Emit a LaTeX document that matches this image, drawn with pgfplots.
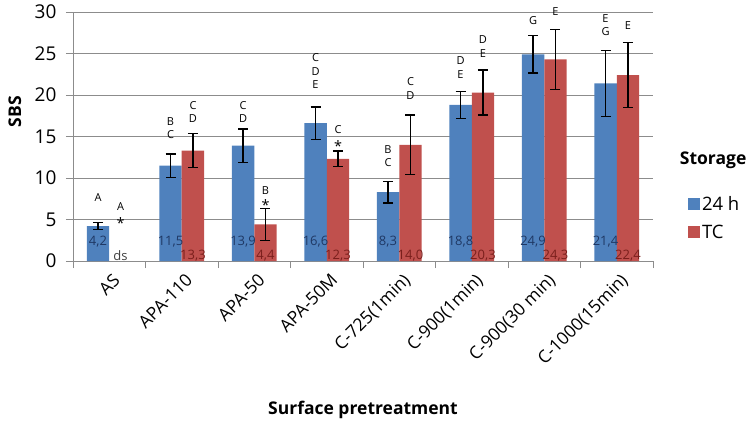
\documentclass[border=0pt]{standalone}
\usepackage{fontspec}
\setmainfont{Open Sans}
\usepackage{pgfplots}
\pgfplotsset{compat=1.18}
\definecolor{barblue}{HTML}{4F81BD}
\definecolor{barred}{HTML}{C0504D}
\definecolor{gridgray}{HTML}{8C8C8C}
\definecolor{lblblue}{HTML}{1F3864}
\definecolor{lblred}{HTML}{7A1F1C}
% significance letters and value labels
\newcommand{\sig}[3]{\node[font=\fontsize{11}{13}\selectfont, inner sep=0pt] at (axis cs:#1,#2) {#3};}
\newcommand{\vb}[2]{\node[font=\fontsize{13}{15}\selectfont, text=lblblue, inner sep=0pt] at (axis cs:#1,2.3) {#2};}
\newcommand{\vr}[2]{\node[font=\fontsize{13}{15}\selectfont, text=lblred, inner sep=0pt] at (axis cs:#1,0.65) {#2};}
\begin{document}
\begin{tikzpicture}
\begin{axis}[
  scale only axis,
  width=580pt, height=249pt,
  xmin=-0.5, xmax=7.5,
  ymin=0, ymax=30,
  ytick={0,5,...,30},
  ybar=0pt, bar width=0.31,
  clip=false,
  /pgf/number format/assume math mode=true,
  axis line style={gridgray, line width=0.8pt},
  axis x line*=bottom,
  axis y line*=left,
  ymajorgrids,
  grid style={gridgray, line width=0.8pt},
  y tick style={gridgray, line width=0.8pt},
  tick align=outside,
  major tick length=7pt,
  yticklabel style={font=\fontsize{19}{22}\selectfont, xshift=-6pt},
  xtick={0,...,7},
  xticklabels={AS,APA-110,APA-50,APA-50M,C-725(1min),C-900(1min),C-900(30 min),C-1000(15min)},
  x tick style={draw=none},
  xticklabel style={font=\fontsize{17.5}{20}\selectfont, rotate=45, anchor=north east, inner sep=1pt, yshift=-4pt},
  extra x ticks={-0.5,0.5,...,7.5},
  extra x tick labels={},
  extra x tick style={grid=none, x tick style={draw=gridgray, line width=0.8pt}, major tick length=7pt},
  xlabel={\bfseries Surface pretreatment},
  x label style={at={(axis description cs:0.5,-0.6)}, anchor=center, font=\fontsize{17.5}{21}\selectfont},
  ylabel={\bfseries SBS},
  y label style={at={(axis description cs:-0.1,0.6)}, anchor=center, font=\fontsize{17.5}{21}\selectfont},
  legend style={at={(axis description cs:1.06,0.173)}, anchor=west, draw=none, fill=none,
    font=\fontsize{18.5}{21}\selectfont, row sep=9pt, inner sep=0pt},
  legend cell align=left,
  error bars/error bar style={black, line width=1.3pt},
  error bars/error mark options={rotate=90, mark size=5pt, line width=1.3pt, black},
]
\addplot[fill=barblue, draw=none,
  legend image code/.code={\fill[barblue] (0pt,-6pt) rectangle (12pt,6pt);},
  error bars/.cd, y dir=both, y explicit]
  coordinates {
  (0,4.2)  +- (0,0.4)
  (1,11.5) +- (0,1.4)
  (2,13.9) +- (0,2.0)
  (3,16.6) +- (0,1.95)
  (4,8.3)  +- (0,1.3)
  (5,18.8) +- (0,1.65)
  (6,24.9) +- (0,2.25)
  (7,21.4) +- (0,4.0)
  };
\addlegendentry{24 h}
\addplot[fill=barred, draw=none,
  legend image code/.code={\fill[barred] (0pt,-6pt) rectangle (12pt,6pt);},
  error bars/.cd, y dir=both, y explicit]
  coordinates {
  (1,13.3) +- (0,2.05)
  (2,4.4)  +- (0,1.9)
  (3,12.3) +- (0,0.95)
  (4,14.0) +- (0,3.6)
  (5,20.3) +- (0,2.7)
  (6,24.3) +- (0,3.6)
  (7,22.4) +- (0,3.9)
  };
\addlegendentry{TC}

% value labels
\vb{-0.155}{4,2}   \node[font=\fontsize{13}{15}\selectfont, text=black!75, inner sep=0pt] at (axis cs:0.155,0.65) {ds};
\vb{0.845}{11,5}   \vr{1.155}{13,3}
\vb{1.845}{13,9}   \vr{2.155}{4,4}
\vb{2.845}{16,6}   \vr{3.155}{12,3}
\vb{3.845}{8,3}    \vr{4.155}{14,0}
\vb{4.845}{18,8}   \vr{5.155}{20,3}
\vb{5.845}{24,9}   \vr{6.155}{24,3}
\vb{6.845}{21,4}   \vr{7.155}{22,4}

% significance letters
\sig{-0.155}{7.7}{A}
\sig{0.155}{6.5}{A} \sig{0.155}{4.6}{\Large *}
\sig{0.845}{16.8}{B} \sig{0.845}{15.2}{C}
\sig{1.155}{18.7}{C} \sig{1.155}{17.1}{D}
\sig{1.845}{18.7}{C} \sig{1.845}{17.1}{D}
\sig{2.155}{8.5}{B} \sig{2.155}{6.7}{\Large *}
\sig{2.845}{24.5}{C} \sig{2.845}{22.8}{D} \sig{2.845}{21.2}{E}
\sig{3.155}{15.8}{C} \sig{3.155}{13.9}{\Large *}
\sig{3.845}{13.4}{B} \sig{3.845}{11.8}{C}
\sig{4.155}{21.6}{C} \sig{4.155}{19.9}{D}
\sig{4.845}{24.2}{D} \sig{4.845}{22.5}{E}
\sig{5.155}{26.7}{D} \sig{5.155}{25.0}{E}
\sig{5.845}{29.0}{G}
\sig{6.155}{30.0}{E}
\sig{6.845}{29.2}{E} \sig{6.845}{27.6}{G}
\sig{7.155}{28.4}{E}

\node[anchor=west, font=\fontsize{17.5}{21}\selectfont\bfseries, inner sep=0pt] at (axis description cs:1.046,0.405) {Storage};
\end{axis}
\useasboundingbox (-73pt,-162pt) rectangle (678pt,261pt);
\end{tikzpicture}
\end{document}
